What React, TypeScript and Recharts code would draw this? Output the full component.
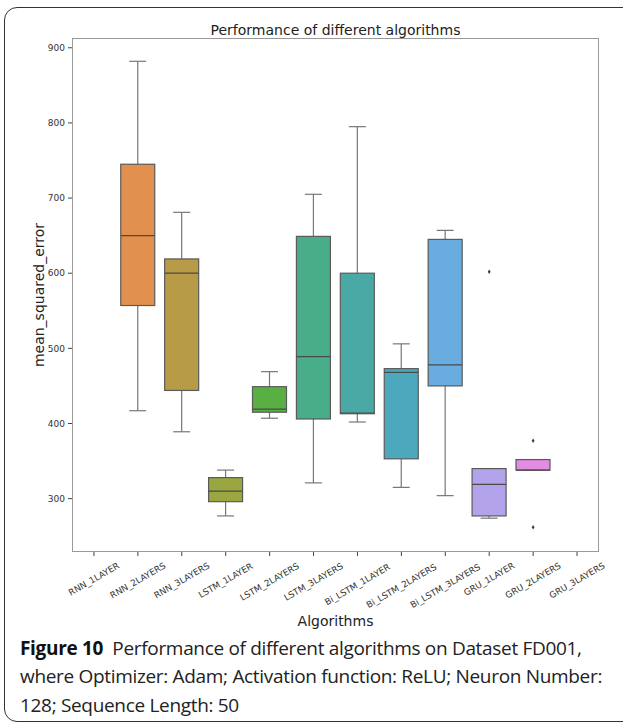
import React from 'react';
import { ComposedChart, Bar, Scatter, XAxis, YAxis } from 'recharts';

// box plot statistics (mean_squared_error)
const categories = [
  'RNN_1LAYER', 'RNN_2LAYERS', 'RNN_3LAYERS', 'LSTM_1LAYER', 'LSTM_2LAYERS', 'LSTM_3LAYERS',
  'Bi_LSTM_1LAYER', 'Bi_LSTM_2LAYERS', 'Bi_LSTM_3LAYERS', 'GRU_1LAYER', 'GRU_2LAYERS', 'GRU_3LAYERS',
];
const whiskerLow = [null, 417, 389, 277, 407, 321, 402, 315, 304, 274, 338, null];
const q1 = [null, 557, 444, 296, 415, 406, 413, 353, 450, 277, 338, null];
const median = [null, 650, 600, 310, 419, 489, 414, 468, 478, 319, 338, null];
const q3 = [null, 745, 619, 328, 449, 649, 600, 473, 645, 340, 352, null];
const whiskerHigh = [null, 882, 681, 338, 469, 705, 795, 506, 657, 340, 352, null];
const outlierA = [null, null, null, null, null, null, null, null, null, 602, 377, null];
const outlierB = [null, null, null, null, null, null, null, null, null, null, 262, null];
const yTicks = [300, 400, 500, 600, 700, 800, 900];

const colors = [
  '#e5788a', '#e1904f', '#b89b47', '#9aa640', '#58b043', '#48ae8a',
  '#4aa9a4', '#4ca8bd', '#69acdf', '#b3a3ea', '#e28ce2', '#e77fb5',
];

const data = categories.map((name, i) => ({
  name,
  color: colors[i],
  range: whiskerLow[i] == null ? null : [whiskerLow[i], whiskerHigh[i]],
  q1: q1[i],
  median: median[i],
  q3: q3[i],
  outA: outlierA[i],
  outB: outlierB[i],
}));

const FONT = '"DejaVu Sans", sans-serif';
const CAPTION_FONT = '"Open Sans", sans-serif';

const BoxShape = (props: any) => {
  const { x, y, width, height, payload } = props;
  if (!payload || !payload.range) return <g />;
  const [lo, hi] = payload.range;
  const top = Math.min(y, y + height);
  const h = Math.abs(height);
  const py = (v: number) => top + ((hi - v) / (hi - lo)) * h;
  const cx = x + width / 2;
  const cap = width / 4;
  const boxTop = py(payload.q3);
  const boxBottom = py(payload.q1);
  const med = py(payload.median);
  return (
    <g>
      <line x1={cx} x2={cx} y1={top} y2={boxTop} stroke="#777" strokeWidth={1.2} />
      <line x1={cx} x2={cx} y1={boxBottom} y2={top + h} stroke="#777" strokeWidth={1.2} />
      <line x1={cx - cap} x2={cx + cap} y1={top} y2={top} stroke="#777" strokeWidth={1.2} />
      <line x1={cx - cap} x2={cx + cap} y1={top + h} y2={top + h} stroke="#777" strokeWidth={1.2} />
      <rect x={x} y={boxTop} width={width} height={boxBottom - boxTop}
        fill={payload.color} stroke="#5a5a5a" strokeWidth={1.2} />
      <line x1={x} x2={x + width} y1={med} y2={med} stroke="#4a4a4a" strokeWidth={1.2} />
    </g>
  );
};

const Flier = (key: string) => (props: any) => {
  const { cx, cy, payload } = props;
  if (!payload || payload[key] == null) return <g />;
  return (
    <polygon
      points={`${cx},${cy - 2.2} ${cx + 1.4},${cy} ${cx},${cy + 2.2} ${cx - 1.4},${cy}`}
      fill="#3a3a3a"
    />
  );
};

const XTick = (props: any) => {
  const { x, y, payload } = props;
  const fs = 8.8;
  const len = String(payload.value).length * 0.62 * fs;
  const cy = y + 3.5 + len / 4 + fs * 0.45;
  return (
    <text x={x} y={cy} textAnchor="middle" dominantBaseline="central"
      transform={`rotate(-30, ${x}, ${cy})`} fontSize={fs} fill="#333" fontFamily={FONT}>
      {payload.value}
    </text>
  );
};

export default function App() {
  return (
    <div style={{ position: 'absolute', left: 0, top: 0, width: 623, height: 727, overflow: 'hidden', background: '#fff' }}>
      <div style={{
        position: 'absolute', left: 4, top: 7, width: 650, height: 715,
        border: '1.5px solid #333', borderRadius: 13, boxSizing: 'border-box',
      }} />
      <div style={{
        position: 'absolute', left: 0, width: 671, top: 21, textAlign: 'center',
        fontFamily: FONT, fontSize: 14, color: '#222', lineHeight: '18px',
      }}>Performance of different algorithms</div>
      <div style={{
        position: 'absolute', left: 39, top: 295, transform: 'translate(-50%, -50%) rotate(-90deg)',
        fontFamily: FONT, fontSize: 14, color: '#222', whiteSpace: 'nowrap',
      }}>mean_squared_error</div>
      <div style={{
        position: 'absolute', left: 0, width: 671, top: 612, textAlign: 'center',
        fontFamily: FONT, fontSize: 14, color: '#222', lineHeight: '18px',
      }}>Algorithms</div>
      <div style={{ position: 'absolute', left: 0, top: 0 }}>
        <ComposedChart width={623} height={640} data={data}
          margin={{ top: 38, right: 24, left: 0, bottom: 0 }} barCategoryGap="11%">
          <XAxis dataKey="name" type="category" height={88} interval={0}
            axisLine={false} tickLine={{ stroke: '#444' }} tickSize={4} tickMargin={2}
            tick={<XTick />} allowDuplicatedCategory={false} />
          <YAxis type="number" domain={[229, 913]} ticks={yTicks} width={72}
            axisLine={false} tickLine={{ stroke: '#444' }} tickSize={4} tickMargin={3}
            tick={{ fontSize: 9, fill: '#333', fontFamily: FONT }} />
          <Bar dataKey="range" shape={(p: any) => <BoxShape {...p} />} isAnimationActive={false} />
          <Scatter dataKey="outA" shape={Flier('outA')} isAnimationActive={false} />
          <Scatter dataKey="outB" shape={Flier('outB')} isAnimationActive={false} />
        </ComposedChart>
      </div>
      <div style={{
        position: 'absolute', left: 72, top: 38, width: 527, height: 514,
        border: '1px solid #999', boxSizing: 'border-box', pointerEvents: 'none',
      }} />
      <div style={{
        position: 'absolute', left: 20, top: 633.5, width: 600,
        fontFamily: CAPTION_FONT, fontSize: 19, letterSpacing: '-0.32px',
        lineHeight: '28.5px', color: '#222', whiteSpace: 'nowrap',
      }}>
        <span style={{ fontWeight: 'bold', color: '#111' }}>Figure 10</span>
        {'\u00a0 Performance of different algorithms on Dataset FD001,'}
        <br />
        where Optimizer: Adam; Activation function: ReLU; Neuron Number:
        <br />
        128; Sequence Length: 50
      </div>
    </div>
  );
}
